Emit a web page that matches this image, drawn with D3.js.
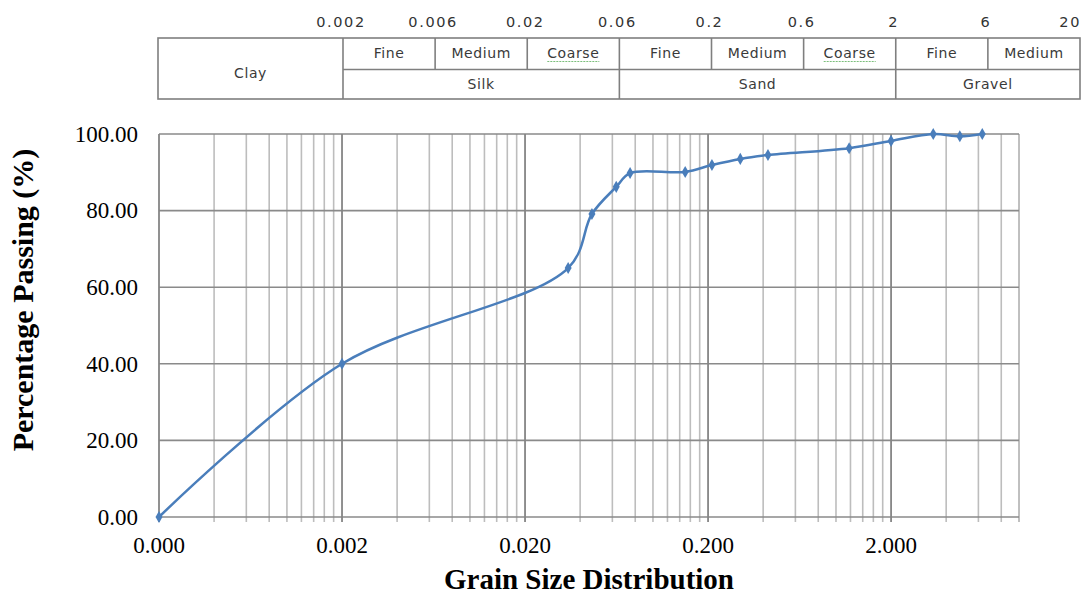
<!DOCTYPE html>
<html>
<head>
<meta charset="utf-8">
<script src="https://cdn.jsdelivr.net/npm/d3@7"></script>
<style>
  html, body { margin: 0; padding: 0; background: #fff; }
  svg { display: block; }
</style>
</head>
<body>
<svg id="chart" width="1084" height="596"></svg>
<script>
// ---------- data ----------
const grainSize = [0.0002, 0.002, 0.0344, 0.0464, 0.063, 0.075, 0.15, 0.21, 0.3, 0.425, 1.18, 2.0, 3.4, 4.75, 6.3];
const passing   = [0, 40, 65, 79.1, 86.2, 89.8, 90.1, 91.9, 93.5, 94.5, 96.3, 98.2, 100, 99.4, 100];

const xMajorTicks  = [0.0002, 0.002, 0.02, 0.2, 2];
const xTickLabels  = ["0.000", "0.002", "0.020", "0.200", "2.000"];
const yTicks       = [0, 20, 40, 60, 80, 100];

const tableBounds   = ["0.002", "0.006", "0.02", "0.06", "0.2", "0.6", "2", "6", "20"];
const subLabels     = ["Fine", "Medium", "Coarse", "Fine", "Medium", "Coarse", "Fine", "Medium"];
const mainLabels    = ["Silk", "Sand", "Gravel"];
const mainSpans     = [3, 3, 2];
const leftLabel     = "Clay";

// ---------- layout ----------
const svg = d3.select("#chart");
const plot = { left: 159, right: 1019, top: 134, bottom: 517 };

const x = d3.scaleLog().domain([0.0002, 10]).range([plot.left, plot.right]);
const y = d3.scaleLinear().domain([0, 100]).range([plot.bottom, plot.top]);

const xAllTicks = [];
xMajorTicks.forEach(d => { for (let k = 1; k <= 9; k++) { const v = d * k; if (v <= 10 * 1.0001) xAllTicks.push(v); } });
xAllTicks.push(10);
const isMajor = v => xMajorTicks.some(m => Math.abs(v / m - 1) < 1e-6);

const grid = svg.append("g");
grid.selectAll("line.vminor").data(xAllTicks.filter(v => !isMajor(v))).join("line")
  .attr("x1", d => x(d)).attr("x2", d => x(d))
  .attr("y1", plot.top).attr("y2", plot.bottom + 5)
  .attr("stroke", "#bdbdbd").attr("stroke-width", 1.6);
grid.selectAll("line.h").data(yTicks).join("line")
  .attr("x1", plot.left).attr("x2", plot.right)
  .attr("y1", d => y(d)).attr("y2", d => y(d))
  .attr("stroke", "#8a8a8a").attr("stroke-width", 1.6);
grid.selectAll("line.vmajor").data(xMajorTicks).join("line")
  .attr("x1", d => x(d)).attr("x2", d => x(d))
  .attr("y1", plot.top).attr("y2", plot.bottom + 5)
  .attr("stroke", "#858585").attr("stroke-width", 1.8);

// ---------- axes labels ----------
const serif = "'Liberation Serif', 'Times New Roman', serif";
svg.append("g").selectAll("text").data(yTicks).join("text")
  .attr("x", 138).attr("y", d => y(d)).attr("dy", "0.34em")
  .attr("text-anchor", "end")
  .attr("font-family", serif).attr("font-size", 23).attr("fill", "#000")
  .text(d3.format(".2f"));

svg.append("g").selectAll("text").data(xMajorTicks).join("text")
  .attr("x", d => x(d)).attr("y", 553)
  .attr("text-anchor", "middle")
  .attr("font-family", serif).attr("font-size", 23).attr("fill", "#000")
  .text((d, i) => xTickLabels[i]);

svg.append("text")
  .attr("x", 589).attr("y", 589)
  .attr("text-anchor", "middle")
  .attr("font-family", serif)
  .attr("font-weight", "bold").attr("font-size", 29)
  .text("Grain Size Distribution");

svg.append("text")
  .attr("transform", "translate(33,300) rotate(-90)")
  .attr("text-anchor", "middle")
  .attr("font-family", serif)
  .attr("font-weight", "bold").attr("font-size", 30)
  .text("Percentage Passing (%)");

// ---------- curve ----------
const pts = grainSize.map((g, i) => [g, passing[i]]);
const line = d3.line().x(d => x(d[0])).y(d => y(d[1])).curve(d3.curveCatmullRom.alpha(0.5));
svg.append("path").attr("d", line(pts))
  .attr("fill", "none").attr("stroke", "#4a7ebb").attr("stroke-width", 2.5);

svg.append("g").selectAll("path").data(pts).join("path")
  .attr("transform", d => `translate(${x(d[0])},${y(d[1])})`)
  .attr("d", d3.symbol(d3.symbolDiamond, 42)())
  .attr("fill", "#4a7ebb");

// ---------- classification table ----------
const t = d3.scaleLinear().domain([0, 8]).range([343, 1080]);
const tab = { left: 158, top: 38, mid: 69.5, bottom: 99 };
const tg = svg.append("g");
const lineStyle = s => s.attr("stroke", "#7f7f7f").attr("stroke-width", 1.6);

tg.append("rect").attr("x", tab.left).attr("y", tab.top)
  .attr("width", t(8) - tab.left).attr("height", tab.bottom - tab.top)
  .attr("fill", "none").call(lineStyle);
tg.append("line").attr("x1", t(0)).attr("x2", t(8)).attr("y1", tab.mid).attr("y2", tab.mid).call(lineStyle);

const mainStarts = mainSpans.reduce((a, s) => { a.push(a[a.length - 1] + s); return a; }, [0]);
d3.range(0, 8).forEach(i => {
  const full = mainStarts.includes(i);
  tg.append("line").attr("x1", t(i)).attr("x2", t(i))
    .attr("y1", tab.top).attr("y2", full ? tab.bottom : tab.mid).call(lineStyle);
});

const sans = "'DejaVu Sans', Verdana, sans-serif";
tg.selectAll("text.b").data(tableBounds).join("text")
  .attr("x", (d, i) => i === tableBounds.length - 1 ? t(i) + 1 : t(i) - 2)
  .attr("y", 27)
  .attr("text-anchor", (d, i) => i === tableBounds.length - 1 ? "end" : "middle")
  .attr("font-family", sans).attr("font-size", 14.5).attr("letter-spacing", 1.6)
  .attr("fill", "#333").text(d => d);

tg.selectAll("text.s").data(subLabels).join("text")
  .attr("x", (d, i) => (t(i) + t(i + 1)) / 2).attr("y", 58)
  .attr("text-anchor", "middle")
  .attr("font-family", sans).attr("font-size", 14).attr("letter-spacing", 0.6)
  .attr("fill", "#3a3a3a").text(d => d);

subLabels.forEach((d, i) => {
  if (d === "Coarse") {
    const cx = (t(i) + t(i + 1)) / 2;
    tg.append("line").attr("x1", cx - 26).attr("x2", cx + 26).attr("y1", 61.5).attr("y2", 61.5)
      .attr("stroke", "#7cbf7c").attr("stroke-width", 1).attr("stroke-dasharray", "2,1");
  }
});

tg.selectAll("text.m").data(mainLabels).join("text")
  .attr("x", (d, i) => (t(mainStarts[i]) + t(mainStarts[i + 1])) / 2).attr("y", 89)
  .attr("text-anchor", "middle")
  .attr("font-family", sans).attr("font-size", 14).attr("letter-spacing", 0.6)
  .attr("fill", "#3a3a3a").text(d => d);

tg.append("text").attr("x", (tab.left + t(0)) / 2).attr("y", 78)
  .attr("text-anchor", "middle")
  .attr("font-family", sans).attr("font-size", 14).attr("letter-spacing", 0.6)
  .attr("fill", "#3a3a3a").text(leftLabel);
</script>
</body>
</html>
